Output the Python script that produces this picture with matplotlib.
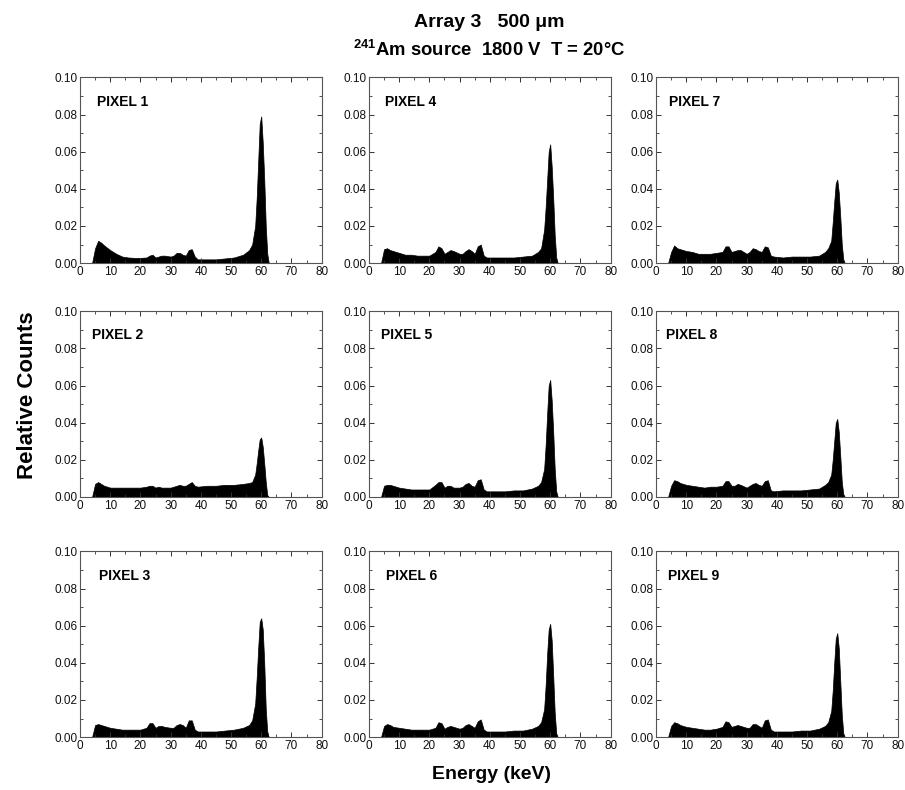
"""
Array 3 (500 um) - 241Am spectra for the nine pixels, 1800 V, 20 C.
3x3 grid of filled spectra, one panel per pixel.
"""
import matplotlib
matplotlib.use("Agg")
import matplotlib.pyplot as plt
from matplotlib.ticker import MultipleLocator

plt.rcParams["font.family"] = ["Liberation Sans", "DejaVu Sans"]
plt.rcParams["mathtext.fontset"] = "custom"
plt.rcParams["mathtext.rm"] = "Liberation Sans:bold"
plt.rcParams["mathtext.bf"] = "Liberation Sans:bold"

# --- data (counts in units of 1e-3) ------------------------------------------
energy = [0, 4, 5, 6, 7, 8, 10, 12, 14, 16, 18, 20, 22, 23, 24, 25, 26, 27, 28,
          30, 31, 32, 33, 34, 35, 36, 37, 38, 39, 42, 45, 48, 51, 54, 56, 57, 58,
          58.5, 59, 59.5, 60, 60.5, 61, 61.5, 62, 62.5, 80]

pixel1 = [0, 0, 8, 12, 11, 9.5, 7, 5, 3.5, 3, 2.8, 2.8, 3, 4, 4.5, 3, 3.5, 4, 4,
          3.5, 4, 5.5, 5.5, 4.5, 4, 7, 7.5, 3.5, 2, 2, 2, 2.5, 3, 4.5, 7, 10, 20,
          35, 55, 75, 79, 65, 45, 20, 5, 0, 0]
pixel2 = [0, 0, 7, 8, 7, 6, 5, 5, 5, 5, 5, 5, 5.5, 6, 6, 5, 5.5, 5, 5,
          5, 5.5, 6, 6.5, 6, 6, 7, 8, 6, 5.5, 6, 6, 6.5, 6.5, 7, 7.5, 8, 12,
          18, 25, 31, 32, 27, 18, 8, 1, 0, 0]
pixel3 = [0, 0, 6.5, 7, 6.5, 6, 5, 4.5, 4, 4, 4, 4, 5, 7.5, 7.5, 5, 6, 6, 5.5,
          5, 5, 6.5, 7, 6.5, 5, 9, 9, 4, 3, 3, 3, 3.5, 4, 5, 6.5, 9, 18,
          32, 48, 62, 64, 58, 40, 15, 3, 0, 0]
pixel4 = [0, 0, 7.5, 8, 7, 6.5, 5.5, 4.5, 4.5, 4, 4, 4, 6, 9, 8, 5, 6, 7, 6.5,
          5, 5, 6.5, 7.5, 6.5, 5, 9, 10, 4, 3, 3, 3, 3, 3.5, 4, 6, 8, 18,
          30, 45, 60, 64, 52, 35, 15, 3, 0, 0]
pixel5 = [0, 0, 6, 6.5, 6.5, 6, 5, 4.5, 4, 4, 4, 4, 6.5, 8, 8, 5, 6, 6, 5,
          5, 5.5, 7, 7.5, 6, 5.5, 9, 9.5, 4, 3, 3, 3, 3.5, 3.5, 4.5, 6, 8, 15,
          28, 45, 60, 63, 52, 35, 15, 3, 0, 0]
pixel6 = [0, 0, 6, 7, 6.5, 5.5, 5, 4.5, 4, 4, 4, 4, 5, 8, 7.5, 4.5, 5.5, 6, 5.5,
          4.5, 5, 6.5, 7, 6, 5, 8.5, 9.5, 4, 3, 3, 3, 3.5, 3.5, 4.5, 6, 8, 15,
          28, 45, 58, 61, 52, 33, 13, 2, 0, 0]
pixel7 = [0, 0, 6, 9.5, 8, 7.5, 6.5, 6, 5, 5, 5, 5.5, 6, 9, 9, 6, 6.5, 7, 7,
          5, 6, 8, 7.5, 6.5, 6, 9, 8.5, 4, 3.5, 3, 3.5, 3.5, 3.5, 4, 6, 8, 12,
          22, 33, 43, 45, 38, 25, 10, 2, 0, 0]
pixel8 = [0, 0, 6, 9, 8.5, 7.5, 6.5, 6, 5.5, 5, 5.5, 5.5, 6, 8.5, 8.5, 6, 6, 7, 6.5,
          5, 6, 7, 7.5, 6.5, 6, 8.5, 9, 3.5, 3, 3.5, 3.5, 3.5, 4, 4.5, 6.5, 8, 12,
          20, 30, 40, 42, 35, 22, 8, 1.5, 0, 0]
pixel9 = [0, 0, 6, 8, 7.5, 6.5, 5.5, 5, 4.5, 4, 4, 4.5, 5.5, 8.5, 8, 5.5, 6, 6.5, 6,
          5, 5, 7, 7, 6, 5, 9, 9.5, 4, 3, 3, 3, 3.5, 3.5, 4.5, 6, 8, 14,
          25, 40, 53, 56, 48, 30, 12, 2, 0, 0]

# grid order: column-major, pixels 1-3 in the left column
pixel_names = ["PIXEL 1", "PIXEL 2", "PIXEL 3", "PIXEL 4", "PIXEL 5",
               "PIXEL 6", "PIXEL 7", "PIXEL 8", "PIXEL 9"]
spectra = [pixel1, pixel2, pixel3, pixel4, pixel5, pixel6, pixel7, pixel8, pixel9]

# --- layout ------------------------------------------------------------------
col_left = [0.0884, 0.4077, 0.7249]
row_bottom = [0.667, 0.371, 0.067]
ax_w, ax_h = 0.267, 0.235
label_x = [0.07, 0.05, 0.08, 0.066, 0.05, 0.07, 0.054, 0.04, 0.05]

fig = plt.figure(figsize=(9.05, 7.90), dpi=100)

for i, (name, counts) in enumerate(zip(pixel_names, spectra)):
    col, row = divmod(i, 3)
    ax = fig.add_axes([col_left[col], row_bottom[row], ax_w, ax_h])
    y = [c / 1000 for c in counts]
    ax.fill_between(energy, 0, y, color="black", linewidth=0.5)
    ax.set_xlim(0, 80)
    ax.set_ylim(0, 0.10)
    ax.xaxis.set_major_locator(MultipleLocator(10))
    ax.xaxis.set_minor_locator(MultipleLocator(5))
    ax.yaxis.set_major_locator(MultipleLocator(0.02))
    ax.yaxis.set_minor_locator(MultipleLocator(0.01))
    ax.yaxis.set_major_formatter(plt.FormatStrFormatter("%.2f"))
    ax.tick_params(which="both", direction="in", top=True, right=True,
                   labelsize=8.5, colors="#333333", labelcolor="#111111", pad=2)
    ax.tick_params(which="major", length=3.5, width=0.7)
    ax.tick_params(which="minor", length=2, width=0.6)
    for sp in ax.spines.values():
        sp.set_color("#555555")
        sp.set_linewidth(0.8)
    ax.text(label_x[i], 0.87, name, transform=ax.transAxes,
            fontsize=10, fontweight="bold", va="center")

fig.text(0.541, 0.972, "Array 3   500 \u03bcm", ha="center", va="center",
         fontsize=14, fontweight="bold")
fig.text(0.540, 0.937, "$^{241}$Am source  1800 V  T = 20\u00b0C",
         ha="center", va="center", fontsize=13.3, fontweight="bold")
fig.text(0.030, 0.50, "Relative Counts", rotation=90, ha="center",
         va="center", fontsize=16, fontweight="bold")
fig.text(0.543, 0.019, "Energy (keV)", ha="center", va="center",
         fontsize=14, fontweight="bold")

fig.savefig("out.png", dpi=100)
